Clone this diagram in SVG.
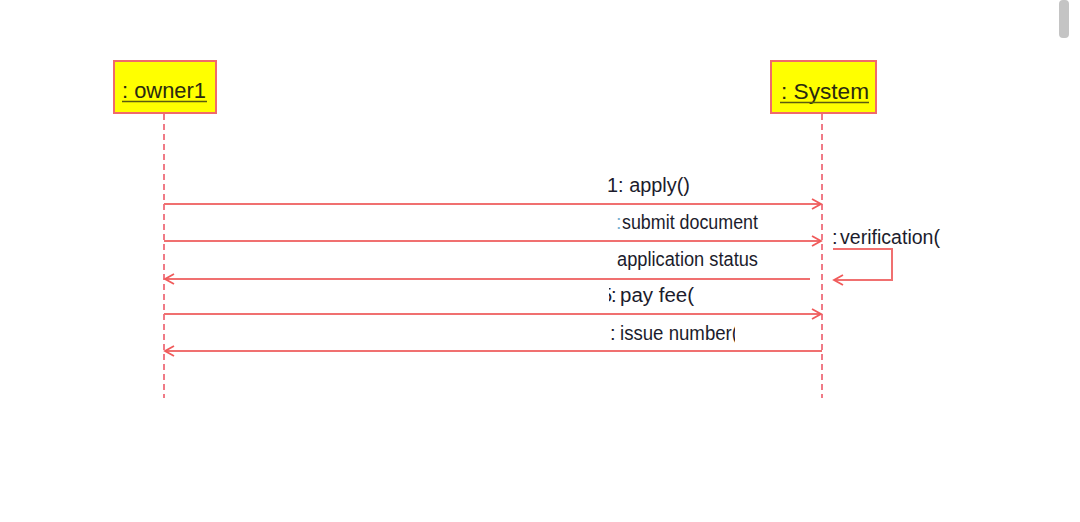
<svg xmlns="http://www.w3.org/2000/svg" width="1080" height="522" viewBox="0 0 1080 522">
<style>
.box{fill:#ffff00;stroke:#f06a6a;stroke-width:2}
.name{font-family:"Liberation Sans",Arial,sans-serif;font-size:22px;fill:#2a2a10}
.ul{stroke:#5a5a10;stroke-width:1.5}
.life{stroke:#f07a86;stroke-width:2;stroke-dasharray:6 4;fill:none}
.msg{stroke:#f07070;stroke-width:2;fill:none}
.lbl{font-family:"Liberation Sans",Arial,sans-serif;font-size:20px;fill:#1c1c2c}
</style>
<defs>
<marker id="arr" markerWidth="12" markerHeight="12" refX="10" refY="6" orient="auto" markerUnits="userSpaceOnUse">
<path d="M1,1 L10,6 L1,11" fill="none" stroke="#f05a5a" stroke-width="1.8"/>
</marker>
<clipPath id="clipPay"><rect x="609" y="280" width="89" height="30"/></clipPath>
<clipPath id="clipIssue"><rect x="605" y="318" width="130" height="30"/></clipPath>
</defs>
<rect x="1059" y="0" width="10" height="38" rx="4" fill="#c4c4c4"/>
<g id="owner1">
<rect class="box" x="114" y="61" width="102" height="52"/>
<text class="name" x="122" y="98" textLength="84" lengthAdjust="spacingAndGlyphs">: owner1</text>
<line class="ul" x1="122" y1="101.5" x2="207" y2="101.5"/>
</g>
<g id="system">
<rect class="box" x="771" y="61" width="105" height="52"/>
<text class="name" x="781" y="99" textLength="88" lengthAdjust="spacingAndGlyphs">: System</text>
<line class="ul" x1="780" y1="102.5" x2="869" y2="102.5"/>
</g>
<g id="lifelines">
<line class="life" x1="164" y1="114" x2="164" y2="398"/>
<line class="life" x1="822" y1="114" x2="822" y2="398"/>
</g>
<g id="connectors">
<line class="msg" x1="164" y1="204" x2="821" y2="204" marker-end="url(#arr)"/>
<line class="msg" x1="164" y1="241" x2="821" y2="241" marker-end="url(#arr)"/>
<polyline class="msg" points="833,249 892,249 892,280 834,280" marker-end="url(#arr)"/>
<line class="msg" x1="810" y1="279" x2="165" y2="279" marker-end="url(#arr)"/>
<line class="msg" x1="164" y1="314" x2="821" y2="314" marker-end="url(#arr)"/>
<line class="msg" x1="822" y1="351" x2="165" y2="351" marker-end="url(#arr)"/>
</g>
<g id="labels">
<text class="lbl" x="607" y="192" textLength="83" lengthAdjust="spacingAndGlyphs">1: apply()</text>
<text class="lbl" y="229"><tspan x="616" fill="#7ab0d0">:</tspan><tspan x="622" textLength="136" lengthAdjust="spacingAndGlyphs">submit document</tspan></text>
<text class="lbl" x="617" y="266" textLength="141" lengthAdjust="spacingAndGlyphs">application status</text>
<text class="lbl" y="302" clip-path="url(#clipPay)"><tspan x="601">5</tspan><tspan x="611">:</tspan><tspan x="620" textLength="74" lengthAdjust="spacingAndGlyphs">pay fee(</tspan></text>
<text class="lbl" y="340" clip-path="url(#clipIssue)"><tspan x="610">:</tspan><tspan x="620" textLength="118" lengthAdjust="spacingAndGlyphs">issue number(</tspan></text>
<text class="lbl" y="244"><tspan x="832">:</tspan><tspan x="840" textLength="100" lengthAdjust="spacingAndGlyphs">verification(</tspan></text>
</g>
</svg>
